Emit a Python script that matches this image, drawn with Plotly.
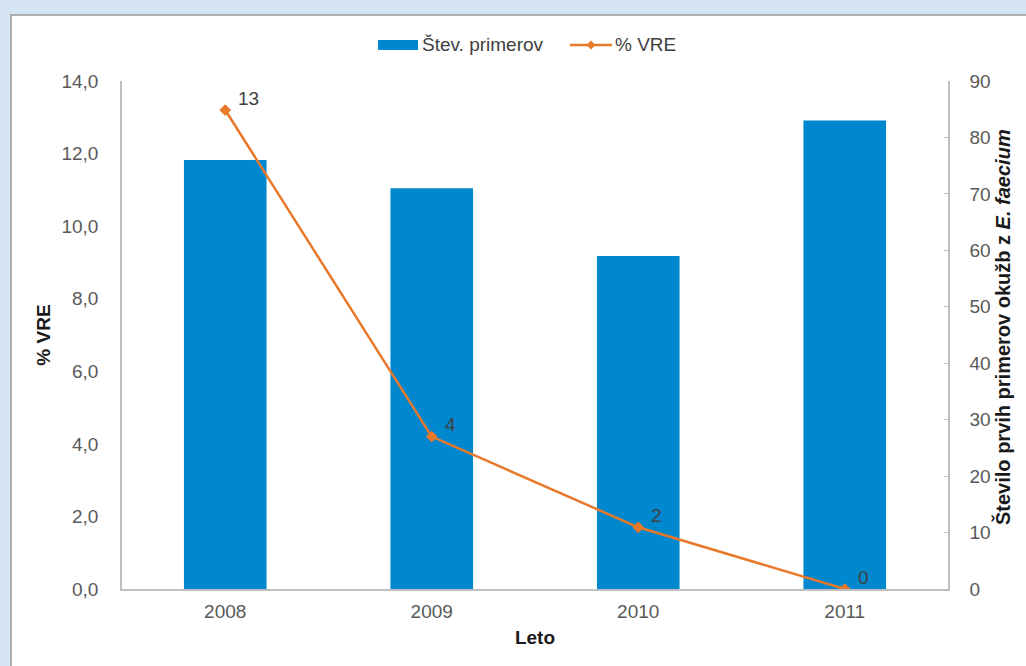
import plotly.graph_objects as go

# Data
years = ["2008", "2009", "2010", "2011"]
cases = [76, 71, 59, 83]            # Število prvih primerov okužb z E. faecium
vre_pct = [13.2, 4.2, 1.7, 0.0]     # % VRE
series_names = ["Štev. primerov", "% VRE"]

BAR_COLOR = "#0088CE"
LINE_COLOR = "#E8782A"
AXIS_COLOR = "#BFBFBF"
TICK_COLOR = "#595959"
TITLE_COLOR = "#1a1a1a"
FONT = "Liberation Sans, Arial, sans-serif"
FS = 19

# pixel geometry of the plot area
L, R, T, B = 122, 948, 81, 589
W, H = 1026, 666
pw, ph = R - L, B - T


def px_x(p):
    return (p - L) / pw


def px_y(p):
    return (B - p) / ph


fig = go.Figure()

fig.add_trace(go.Bar(
    x=years, y=cases, name=series_names[0],
    marker=dict(color=BAR_COLOR, line=dict(width=0)),
    width=0.4, yaxis="y", showlegend=False,
))

fig.add_trace(go.Scatter(
    x=years, y=vre_pct, name=series_names[1], mode="lines+markers",
    line=dict(color=LINE_COLOR, width=2.5),
    marker=dict(symbol="diamond", size=9, color=LINE_COLOR),
    yaxis="y2", showlegend=False,
))

# value labels next to the line points
annotations = []
for i, v in enumerate(vre_pct):
    annotations.append(dict(
        x=i, y=v, xref="x", yref="y2", text=f"{v:.0f}",
        showarrow=False, xanchor="left", yanchor="middle",
        xshift=11, yshift=12,
        font=dict(family=FONT, size=FS, color="#404040"),
    ))

# right axis title with italic species name
annotations.append(dict(
    x=px_x(1002), y=px_y(327), xref="paper", yref="paper",
    text="<b>Število prvih primerov okužb z <i>E. faecium</i></b>",
    textangle=-90, showarrow=False, xanchor="center", yanchor="middle",
    font=dict(family=FONT, size=20, color=TITLE_COLOR),
))

# legend: wide bar swatch and line-with-marker swatch
LEG_Y = 45
annotations.append(dict(
    x=px_x(420), y=px_y(LEG_Y), xref="paper", yref="paper",
    text=series_names[0], showarrow=False, xanchor="left", yanchor="middle",
    font=dict(family=FONT, size=FS, color="#404040"),
))
annotations.append(dict(
    x=px_x(613), y=px_y(LEG_Y), xref="paper", yref="paper",
    text=series_names[1], showarrow=False, xanchor="left", yanchor="middle",
    font=dict(family=FONT, size=FS, color="#404040"),
))

# white chart panel on the light blue page background
shapes = [dict(
    type="rect", xref="paper", yref="paper", layer="below",
    x0=px_x(11), x1=px_x(1040), y0=px_y(680), y1=px_y(15),
    fillcolor="white", line=dict(color="#9a9a9a", width=1.5),
)]
shapes.append(dict(
    type="rect", xref="paper", yref="paper",
    x0=px_x(378), x1=px_x(418), y0=px_y(LEG_Y + 5), y1=px_y(LEG_Y - 5),
    fillcolor=BAR_COLOR, line=dict(width=0),
))
shapes.append(dict(
    type="line", xref="paper", yref="paper",
    x0=px_x(570), x1=px_x(612), y0=px_y(LEG_Y), y1=px_y(LEG_Y),
    line=dict(color=LINE_COLOR, width=2.5),
))
cx, d = 591, 4.5
diamond = (f"M {px_x(cx - d)},{px_y(LEG_Y)} L {px_x(cx)},{px_y(LEG_Y - d)} "
           f"L {px_x(cx + d)},{px_y(LEG_Y)} L {px_x(cx)},{px_y(LEG_Y + d)} Z")
shapes.append(dict(
    type="path", xref="paper", yref="paper", path=diamond,
    fillcolor=LINE_COLOR, line=dict(width=0),
))

fig.update_layout(
    width=W, height=H,
    margin=dict(l=L, r=W - R, t=T, b=H - B, pad=0),
    paper_bgcolor="#D6E5F4",
    plot_bgcolor="rgba(0,0,0,0)",
    separators=",.",
    font=dict(family=FONT, size=FS, color=TICK_COLOR),
    bargap=0.6,
    showlegend=False,
    xaxis=dict(
        type="category", range=[-0.5, 3.5],
        showline=True, linecolor=AXIS_COLOR, linewidth=1.5,
        ticks="", showgrid=False, zeroline=False,
        tickfont=dict(family=FONT, size=FS, color=TICK_COLOR),
        ticklabelstandoff=4,
        title=dict(text="<b>Leto</b>", standoff=10,
                   font=dict(family=FONT, size=FS, color=TITLE_COLOR)),
    ),
    yaxis=dict(
        side="right", range=[0, 90], dtick=10,
        showline=True, linecolor=AXIS_COLOR, linewidth=1.5,
        ticks="inside", ticklen=4, tickcolor=AXIS_COLOR,
        showgrid=False, zeroline=False,
        tickfont=dict(family=FONT, size=FS, color=TICK_COLOR),
        ticklabelstandoff=16,
    ),
    yaxis2=dict(
        side="left", overlaying="y", range=[0, 14], dtick=2,
        tickformat=".1f",
        showline=True, linecolor=AXIS_COLOR, linewidth=1.5,
        ticks="", showgrid=False, zeroline=False,
        tickfont=dict(family=FONT, size=FS, color=TICK_COLOR),
        ticklabelstandoff=18,
        title=dict(text="<b>% VRE</b>", standoff=6,
                   font=dict(family=FONT, size=FS, color=TITLE_COLOR)),
    ),
    annotations=annotations,
    shapes=shapes,
)

fig.write_html("out.html")
